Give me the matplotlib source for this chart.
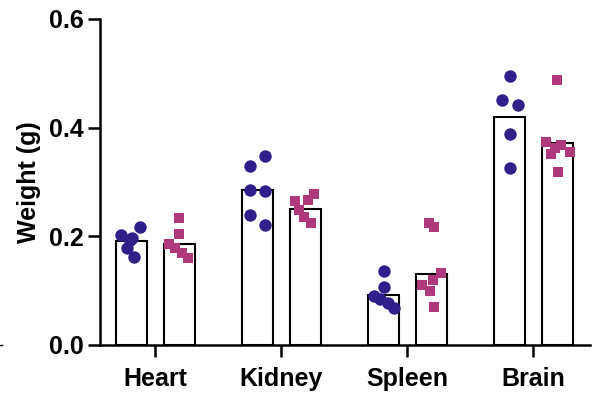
import matplotlib
matplotlib.use("Agg")
import matplotlib.pyplot as plt
from matplotlib.lines import Line2D
import numpy as np

plt.rcParams['font.family'] = ['Liberation Sans', 'DejaVu Sans']

categories = ["Heart", "Kidney", "Spleen", "Brain"]
yticks = [0.0, 0.2, 0.4, 0.6]
ylabel = "Weight (g)"

# bar heights (group 1 = circles, group 2 = squares)
bar_g1 = [0.191, 0.285, 0.092, 0.419]
bar_g2 = [0.186, 0.250, 0.131, 0.371]

# individual points, group 1 (circles)
g1_heart = [0.2025, 0.197, 0.217, 0.1785, 0.162, 0.193]
g1_kidney = [0.348, 0.329, 0.285, 0.283, 0.239, 0.221]
g1_spleen = [0.136, 0.106, 0.090, 0.084, 0.077, 0.0675]
g1_brain = [0.496, 0.451, 0.442, 0.388, 0.325]

# individual points, group 2 (squares)
g2_heart = [0.233, 0.204, 0.186, 0.178, 0.169, 0.161]
g2_kidney = [0.277, 0.267, 0.265, 0.248, 0.236, 0.224]
g2_spleen = [0.225, 0.218, 0.132, 0.120, 0.110, 0.0985, 0.0695]
g2_brain = [0.488, 0.374, 0.362, 0.368, 0.356, 0.352, 0.318]

# horizontal jitter (pixels at original scale, converted below)
j1_heart = [-10.5, 0.5, 8.5, -4.5, 2.5, -1.5]
j1_kidney = [8, -7, -7, 8, -7, 8]
j1_spleen = [1, 1, -9, -3, 5, 11]
j1_brain = [1, -7, 9, 1, 1]
j2_heart = [-0.5, -0.5, -10.5, -4, 3, 9]
j2_kidney = [9, 3, -10, -6, -1, 6]
j2_spleen = [-2, 3, 10, 2, -9, -1, 3]
j2_brain = [0, -11, -2, 4, 13, -6, 1]

g1 = [g1_heart, g1_kidney, g1_spleen, g1_brain]
g2 = [g2_heart, g2_kidney, g2_spleen, g2_brain]
j1 = [j1_heart, j1_kidney, j1_spleen, j1_brain]
j2 = [j2_heart, j2_kidney, j2_spleen, j2_brain]

c1 = "#2F1F8A"
c2 = "#B0387D"

px_per_unit = 126.0
offset = 24.0 / px_per_unit
width = 31.0 / px_per_unit

fig = plt.figure(figsize=(5.94, 3.93), dpi=100)
ax = fig.add_axes([100/594, (393-345)/393, 490/594, 326/393])

x = np.arange(len(categories))
ax.bar(x - offset, bar_g1, width=width, facecolor="white", edgecolor="black", linewidth=1.5, zorder=2)
ax.bar(x + offset, bar_g2, width=width, facecolor="white", edgecolor="black", linewidth=1.5, zorder=2)

for i in range(len(categories)):
    xs1 = x[i] - offset + np.array(j1[i]) / px_per_unit
    xs2 = x[i] + offset + np.array(j2[i]) / px_per_unit
    ax.scatter(xs1, g1[i], s=80, marker="o", color=c1, linewidths=0, zorder=3, clip_on=False)
    ax.scatter(xs2, g2[i], s=62, marker="s", color=c2, linewidths=0, zorder=3, clip_on=False)

ax.set_xlim(-55.3/px_per_unit, (590-155.3)/px_per_unit)
ax.set_ylim(0, 0.6)
ax.set_yticks(yticks)
ax.set_yticklabels([f"{v:.1f}" for v in yticks], fontsize=18, fontweight="bold")
ax.set_xticks(x)
ax.set_xticklabels(categories, fontsize=18, fontweight="bold")
ax.set_ylabel(ylabel, fontsize=18, fontweight="bold", labelpad=6)

for s in ["top", "right"]:
    ax.spines[s].set_visible(False)
for s in ["left", "bottom"]:
    ax.spines[s].set_linewidth(1.8)
ax.tick_params(axis="both", direction="out", length=8.5, width=1.8, color="black", pad=3)
ax.tick_params(axis="x", pad=7.5)

fig.add_artist(Line2D([0, 2/594], [(393-345)/393]*2, color="black", linewidth=1.0))

fig.savefig("out.png", dpi=100)
